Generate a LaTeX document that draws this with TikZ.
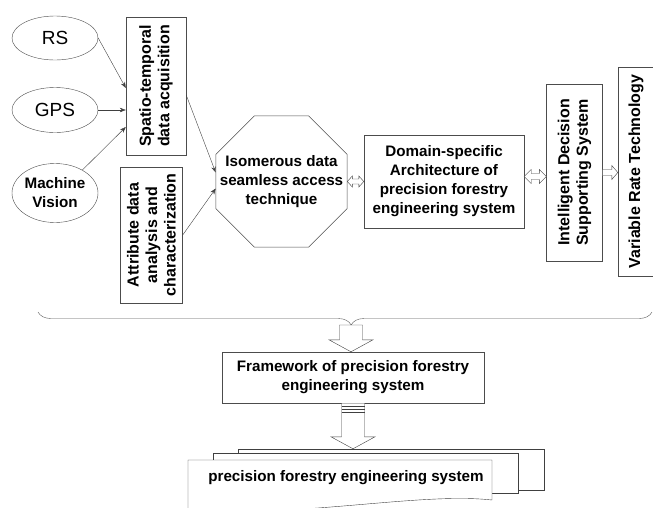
\documentclass[tikz,border=0pt]{standalone}
\usepackage{fontspec}
\setmainfont{Liberation Sans}
\usetikzlibrary{calc,arrows.meta,shapes.geometric,decorations.pathreplacing}
\tikzset{
	box/.style={draw=black!70,fill=white,inner sep=0pt,align=center,font=\bfseries\fontsize{15.2}{19}\selectfont},%
	vbox/.style={box,rotate=90,font=\bfseries\fontsize{16}{18.5}\selectfont},%
	source/.style={ellipse,draw=black!70,inner sep=0pt,minimum width=86pt,align=center},%
	link/.style={draw=black!75,-{Stealth[length=6pt,width=4.5pt]}},%
	hollow/.style={draw=black!75,fill=white,line join=miter},%
	docpage/.style={draw=black!75,fill=white},%
	curly/.style={draw=black!65,decorate,decoration={brace,mirror,amplitude=13pt,aspect=0.51}},%
}
% block arrow pointing down, from #1 to #2
\newcommand{\hollowdown}[2]{%
	\draw[hollow] let \p1=(#1), \p2=(#2) in
	(\x1-11.5pt,\y1) -- (\x1+11.5pt,\y1) -- (\x1+11.5pt,\y2+12pt) -- (\x1+22pt,\y2+12pt)
	-- (\x1,\y2) -- (\x1-22pt,\y2+12pt) -- (\x1-11.5pt,\y2+12pt) -- cycle;}
% block arrow with two heads: from, to, shaft, head, head length
\newcommand{\hollowlr}[5]{%
	\draw[hollow] let \p1=(#1), \p2=(#2) in
	(\x1,\y1) -- (\x1+#5,\y1+#4) -- (\x1+#5,\y1+#3) -- (\x2-#5,\y1+#3) -- (\x2-#5,\y1+#4)
	-- (\x2,\y1) -- (\x2-#5,\y1-#4) -- (\x2-#5,\y1-#3) -- (\x1+#5,\y1-#3) -- (\x1+#5,\y1-#4) -- cycle;}
% block arrow with one head
\newcommand{\hollowright}[2]{%
	\draw[hollow] let \p1=(#1), \p2=(#2) in
	(\x1,\y1+3pt) -- (\x2-6pt,\y1+3pt) -- (\x2-6pt,\y1+7pt) -- (\x2,\y1)
	-- (\x2-6pt,\y1-7pt) -- (\x2-6pt,\y1-3pt) -- (\x1,\y1-3pt) -- cycle;}

\begin{document}
\begin{tikzpicture}[x=1pt,y=-1pt]
	\useasboundingbox (0,0) rectangle (653,507);
	\node[source,minimum height=44pt,font=\fontsize{19}{21}\selectfont] (rs) at (55,38) {RS};
	\node[source,minimum height=45pt,font=\fontsize{19}{21}\selectfont] (gps) at (55,110) {GPS};
	\node[source,minimum height=59pt,font=\bfseries\fontsize{15.2}{19}\selectfont] (mv) at (55,193) {Machine\\Vision};
	\node[vbox,minimum width=138pt,minimum height=60pt] (st) at (156,86) {Spatio-temporal\\data acquisition};
	\node[vbox,minimum width=136pt,minimum height=62pt] (attr) at (151.5,235) {Attribute data\\analysis and\\characterization};
	\node[regular polygon,regular polygon sides=8,draw=black!70,inner sep=0pt,minimum size=142pt,
		label={[box,draw=none,fill=none]center:Isomerous data\\seamless access\\technique}] (ism) at (281.5,181.5) {};
	\node[box,minimum width=160pt,minimum height=93pt] (dom) at (444,181.5) {Domain-specific\\Architecture of\\precision forestry\\engineering system};
	\node[vbox,minimum width=177pt,minimum height=56pt] (ids) at (574.5,172.5) {Intelligent Decision\\Supporting System};
	\node[vbox,minimum width=209pt,minimum height=36pt] (vrt) at (636,171.5) {Variable Rate Technology};

	\draw[link] (rs.east) -- ($(st.north)+(0,2)$);
	\draw[link] (gps.east) -- (gps.east -| st.north);
	\draw[link] (mv.40) -- ($(st.north)+(0,41)$);
	\draw[link] ($(st.south)+(0,9)$) -- ($(ism.west)+(0,-9)$);
	\draw[link] (attr.south) -- ($(ism.west)+(0,7)$);

	\coordinate (d1) at ($(dom.east)+(0,-5)$);
	\hollowlr{ism.east}{ism.east -| dom.west}{2.5pt}{5.5pt}{5pt}
	\hollowlr{d1}{d1 -| ids.north}{3pt}{7pt}{7pt}
	\hollowright{ids.south}{ids.south -| vrt.north}

	\draw[curly] (38,312) -- (652,312);
	\coordinate (brtip) at (351,325);
	\node[box,minimum width=262pt,minimum height=51pt] (fw) at (353,377.5) {Framework of precision forestry\\engineering system};
	\hollowdown{brtip}{brtip |- fw.north}

	\node[docpage,minimum width=306pt,minimum height=41pt] (docback) at (391,469.5) {};
	\node[docpage,minimum width=305pt,minimum height=40pt] (docmid) at (365.5,473) {};
	\draw[docpage] (188,460) -- (492,460) -- (492,500) .. controls (420,492) and (300,518) .. (188,510) -- cycle;
	\node[font=\bfseries\fontsize{15.2}{19}\selectfont] (pfes) at (346,478) {precision forestry engineering system};
	\hollowdown{fw.south}{fw.south |- docback.north}
	\foreach \d in {3,6,9}
		\draw[black!75] ($(fw.south)+(-11.5,\d)$) -- ++(23,0);
\end{tikzpicture}
\end{document}
